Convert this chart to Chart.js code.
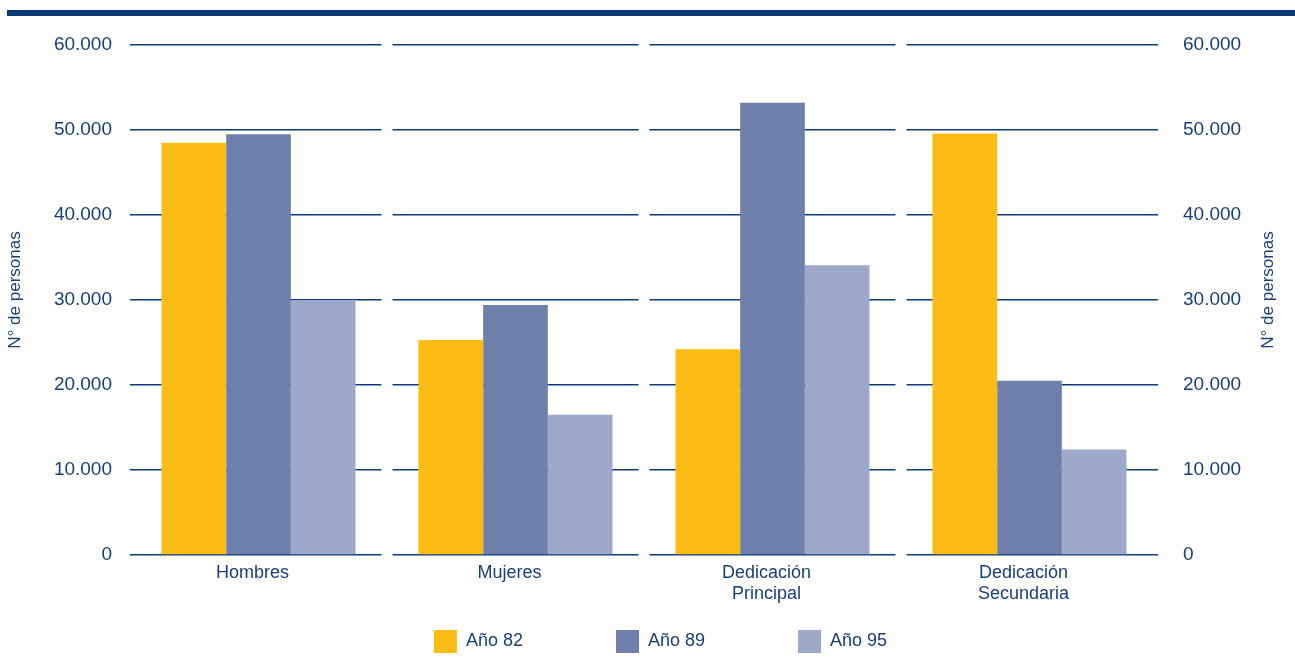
<!DOCTYPE html>
<html>
<head>
<meta charset="utf-8">
<script src="https://cdn.jsdelivr.net/npm/chart.js@4"></script>
<style>
  body { margin: 0; background: #fff; }
  #wrap { position: relative; width: 1295px; height: 666px; }
  #topbar { position: absolute; left: 7px; top: 10px; width: 1288px; height: 6px; background: #0b3a78; }
  #chart { position: absolute; left: 0; top: 0; }
</style>
</head>
<body>
<div id="wrap">
  <div id="topbar"></div>
  <canvas id="chart" width="1295" height="666"></canvas>
</div>
<script>
const categories = ['Hombres', 'Mujeres', ['Dedicación', 'Principal'], ['Dedicación', 'Secundaria']];
const seriesNames = ['Año 82', 'Año 89', 'Año 95'];
const year82 = [48500, 25300, 24200, 49600];
const year89 = [49500, 29400, 53200, 20500];
const year95 = [30000, 16500, 34100, 12400];
const yTicks = [0, 10000, 20000, 30000, 40000, 50000, 60000];
const axisTitle = 'N° de personas';

const textColor = '#173f7a';
const gridColor = '#0d3b7b';
const fontFamily = "'Liberation Sans', Arial, Helvetica, sans-serif";

// thousands with a dot: 60.000
const fmt = v => v === 0 ? '0' : String(v).replace(/\B(?=(\d{3})+(?!\d))/g, '.');

// white gaps in the grid between the category panels
const panelGaps = {
    id: 'panelGaps',
    beforeDatasetsDraw(chart) {
        const {ctx, chartArea} = chart;
        const x = chart.scales.x;
        ctx.save();
        ctx.fillStyle = '#ffffff';
        for (let i = 1; i < categories.length; i++) {
            const mid = (x.getPixelForValue(i - 1) + x.getPixelForValue(i)) / 2;
            ctx.fillRect(mid - 5.5, chartArea.top - 3, 11, chartArea.bottom - chartArea.top + 6);
        }
        ctx.restore();
    }
};

// both axis titles read bottom-to-top
const sideTitles = {
    id: 'sideTitles',
    afterDraw(chart) {
        const {ctx, chartArea} = chart;
        const midY = (chartArea.top + chartArea.bottom) / 2 - 10;
        [15, 1268].forEach(x => {
            ctx.save();
            ctx.translate(x, midY);
            ctx.rotate(-Math.PI / 2);
            ctx.font = '17px ' + fontFamily;
            ctx.fillStyle = textColor;
            ctx.textAlign = 'center';
            ctx.textBaseline = 'middle';
            ctx.fillText(axisTitle, 0, 0);
            ctx.restore();
        });
    }
};

const colors = ['#fcbc14', '#6e7fab', '#9ca9ca'];
const seriesData = [year82, year89, year95];

new Chart(document.getElementById('chart'), {
    type: 'bar',
    data: {
        labels: categories,
        datasets: seriesNames.map((name, i) => ({
            label: name,
            data: seriesData[i],
            backgroundColor: colors[i],
            borderWidth: 0,
            categoryPercentage: 0.755,
            barPercentage: 1,
            yAxisID: 'y'
        }))
    },
    options: {
        responsive: false,
        animation: false,
        devicePixelRatio: 1,
        layout: { padding: { top: 45, left: 26, right: 0, bottom: 3 } },
        plugins: {
            tooltip: { enabled: false },
            legend: {
                position: 'bottom',
                labels: {
                    boxWidth: 23,
                    boxHeight: 23,
                    padding: 13,
                    color: textColor,
                    font: { family: fontFamily, size: 18 },
                    generateLabels(chart) {
                        const items = Chart.defaults.plugins.legend.labels.generateLabels(chart);
                        items.forEach((it, i) => {
                            it.lineWidth = 0;
                            if (i < items.length - 1) it.text = it.text + ' '.repeat(16);
                        });
                        return items;
                    }
                }
            }
        },
        scales: {
            x: {
                grid: { display: false },
                border: { display: false },
                ticks: {
                    color: textColor,
                    padding: -1,
                    labelOffset: -6,
                    font: { family: fontFamily, size: 18 },
                    maxRotation: 0
                },
                afterFit(scale) { scale.height = 62; }
            },
            y: {
                position: 'left',
                min: 0,
                max: 60000,
                afterBuildTicks(scale) { scale.ticks = yTicks.map(v => ({value: v})); },
                grid: { color: gridColor, lineWidth: 1.5, drawTicks: false },
                border: { display: false },
                ticks: {
                    color: textColor,
                    padding: 18,
                    font: { family: fontFamily, size: 19 },
                    callback: v => fmt(v)
                },
                afterFit(scale) { scale.width = 104; }
            },
            y2: {
                position: 'right',
                min: 0,
                max: 60000,
                afterBuildTicks(scale) { scale.ticks = yTicks.map(v => ({value: v})); },
                grid: { display: false },
                border: { display: false },
                ticks: {
                    color: textColor,
                    padding: 17,
                    font: { family: fontFamily, size: 19 },
                    callback: v => fmt(v)
                },
                afterFit(scale) { scale.width = 137; }
            }
        }
    },
    plugins: [panelGaps, sideTitles]
});
</script>
</body>
</html>
